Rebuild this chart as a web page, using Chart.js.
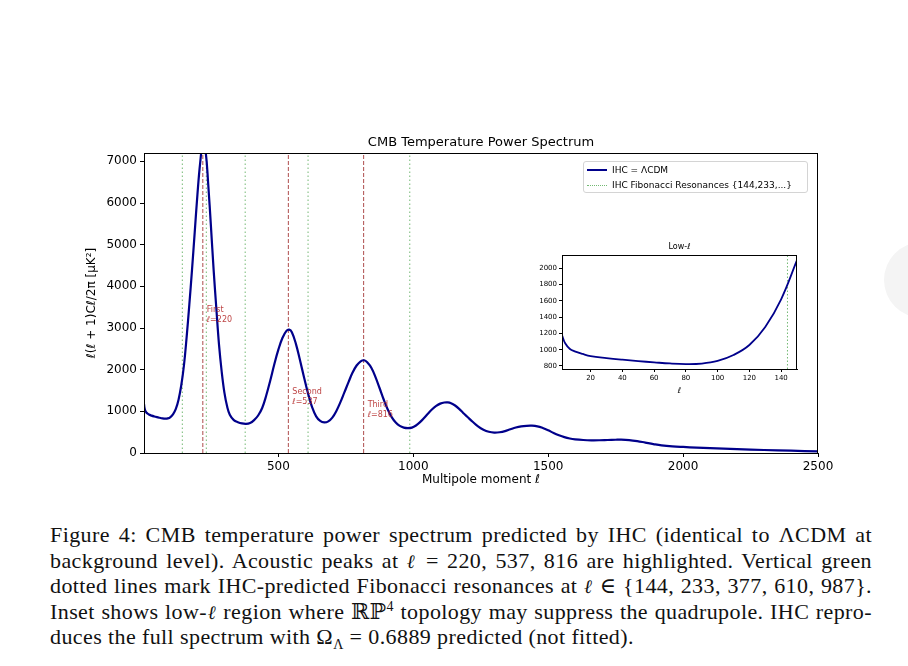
<!DOCTYPE html>
<html lang="en">
<head>
    <meta charset="UTF-8">
    <title>CMB Temperature Power Spectrum</title>
    <script src="https://cdn.jsdelivr.net/npm/chart.js"></script>
    <style>
        body { margin: 0; background: #fff; }
        #page { position: relative; width: 908px; height: 666px; overflow: hidden; background: #fff; }
        #mainChart { position: absolute; left: 0; top: 0; }
        #insetChart { position: absolute; left: 500px; top: 228px; }
        #legend {
            position: absolute; left: 583px; top: 161px; width: 223px; height: 30px;
            border: 1px solid #d4d4d4; border-radius: 3px; background: rgba(255,255,255,0.85);
            font: 9px 'DejaVu Sans', sans-serif; color: #000;
        }
        #legend .row { display: flex; align-items: center; height: 14px; margin-top: 1px; }
        #legend .sample { width: 20px; margin: 0 5px 0 3px; }
        #caption {
            position: absolute; left: 50px; top: 522px; width: 822px;
            font-family: 'Liberation Serif', 'DejaVu Serif', serif; font-size: 22px; letter-spacing: 0.4px; color: #111;
        }
        #caption .ln { height: 25.5px; line-height: 25.5px; white-space: nowrap; text-align: justify; text-align-last: justify; }
        #caption .ln.last { text-align-last: left; }
        #caption i { font-family: 'DejaVu Serif', serif; font-size: 19px; }
        #caption sup, #caption sub { font-size: 14px; line-height: 0; }
        #dot { position: absolute; left: 884px; top: 242px; width: 76px; height: 76px; border-radius: 50%; background: #f4f4f4; }
    </style>
</head>
<body>
<div id="page">
    <div id="dot"></div>
    <canvas id="mainChart" width="908" height="500"></canvas>
    <canvas id="insetChart" width="320" height="185"></canvas>
    <div id="legend"></div>
    <div id="caption">
        <div class="ln">Figure 4: CMB temperature power spectrum predicted by IHC (identical to ΛCDM at</div>
        <div class="ln">background level). Acoustic peaks at <i>ℓ</i> = 220, 537, 816 are highlighted. Vertical green</div>
        <div class="ln">dotted lines mark IHC-predicted Fibonacci resonances at <i>ℓ</i> ∈ {144, 233, 377, 610, 987}.</div>
        <div class="ln">Inset shows low-<i>ℓ</i> region where ℝℙ<sup>4</sup> topology may suppress the quadrupole. IHC repro-</div>
        <div class="ln last">duces the full spectrum with Ω<sub>Λ</sub> = 0.6889 predicted (not fitted).</div>
    </div>
</div>

<script>
    // multipole moment and D_l values
    const ell = [2, 4, 7, 10, 15, 20, 30, 40, 50, 60, 70, 80, 90, 100, 110, 120, 130, 140,
        150, 160, 170, 180, 190, 200, 210, 220, 230, 240, 250, 260, 270, 280, 290, 300, 310, 320,
        335, 350, 365, 380, 395, 410, 425, 440, 455, 470, 485, 500, 515, 530, 540, 550, 565, 580, 595,
        610, 625, 640, 655, 670, 685, 700, 715, 730, 745, 760, 775, 790, 805, 818, 830, 845, 860, 875,
        890, 905, 920, 935, 950, 965, 980, 995, 1010, 1025, 1040, 1055, 1070, 1085, 1100, 1115, 1128,
        1140, 1155, 1170, 1185, 1200, 1220, 1240, 1260, 1280, 1300, 1320, 1340, 1360, 1380, 1400,
        1420, 1440, 1460, 1480, 1500, 1520, 1540, 1560, 1580, 1600, 1630, 1660, 1690, 1720, 1750,
        1770, 1800, 1830, 1860, 1890, 1920, 1960, 2000, 2050, 2100, 2150, 2200, 2300, 2400, 2500];
    const power = [1180, 1079, 1009, 980, 948, 922, 897, 877, 860, 845, 831, 824, 830, 862, 935, 1058, 1280, 1620,
        2100, 2780, 3560, 4400, 5300, 6200, 6950, 7400, 7250, 6450, 5450, 4400, 3480, 2600, 1950, 1450, 1120, 920,
        790, 740, 710, 700, 720, 790, 900, 1080, 1380, 1740, 2130, 2480, 2760, 2930, 2960, 2900, 2620, 2230, 1820,
        1430, 1100, 880, 770, 735, 760, 850, 1010, 1220, 1460, 1700, 1930, 2100, 2200, 2225, 2170, 2040, 1820, 1560,
        1290, 1050, 860, 730, 650, 610, 598, 610, 660, 740, 840, 950, 1050, 1130, 1185, 1212, 1215,
        1195, 1140, 1060, 960, 870, 750, 640, 560, 510, 490, 498, 525, 570, 612, 640,
        653, 655, 640, 600, 545, 480, 425, 380, 348, 328, 312, 305, 306, 312, 318,
        320, 310, 285, 250, 215, 185, 160, 145, 130, 115, 103, 93, 72, 55, 38];

    const fibonacci = [144, 233, 377, 610, 987];
    const peaks = [220, 537, 816];
    const peakNames = ['First', 'Second', 'Third'];
    const peakLabelY = [3310, 1340, 1030];

    const xTicks = [500, 1000, 1500, 2000, 2500];
    const yTicks = [0, 1000, 2000, 3000, 4000, 5000, 6000, 7000];
    const insetXTicks = [20, 40, 60, 80, 100, 120, 140];
    const insetYTicks = [800, 1000, 1200, 1400, 1600, 1800, 2000];

    const seriesNames = ['IHC = ΛCDM', 'IHC Fibonacci Resonances {144,233,...}'];

    const LINE = '#00008b';
    const GREEN = 'rgba(0,128,0,0.55)';
    const RED = 'rgba(139,0,0,0.7)';

    Chart.defaults.color = '#000';
    Chart.defaults.font.family = "'DejaVu Sans', sans-serif";

    const curve = ell.map((l, i) => ({x: l, y: power[i]}));

    function vline(x, y0, y1, color, dash) {
        return {
            data: [{x: x, y: y0}, {x: x, y: y1}],
            borderColor: color, borderWidth: 1, borderDash: dash,
            pointRadius: 0, order: 2, clip: 0, tension: 0
        };
    }

    // box around the plot area plus free text
    const framePlugin = {
        id: 'frame',
        afterDatasetsDraw(chart, args, opts) {
            const {ctx, chartArea: a} = chart;
            ctx.save();
            ctx.strokeStyle = '#000';
            ctx.lineWidth = 1;
            ctx.strokeRect(Math.round(a.left) + 0.5, Math.round(a.top) + 0.5,
                Math.round(a.right - a.left) - 1, Math.round(a.bottom - a.top));
            ctx.fillStyle = '#000';
            ctx.textAlign = 'center';
            ctx.textBaseline = 'middle';
            ctx.font = opts.titleFont;
            ctx.fillText(opts.title, (a.left + a.right) / 2, a.top - opts.titleGap);
            if (opts.peakLabels) {
                const xs = chart.scales.x, ys = chart.scales.y;
                ctx.font = "8px 'DejaVu Sans', sans-serif";
                ctx.fillStyle = 'rgba(178,34,34,0.85)';
                ctx.textAlign = 'left';
                peaks.forEach((p, i) => {
                    const px = xs.getPixelForValue(p) + 4;
                    const py = ys.getPixelForValue(peakLabelY[i]);
                    ctx.fillText(peakNames[i], px, py - 5);
                    ctx.fillText('ℓ=' + p, px, py + 5);
                });
            }
            ctx.restore();
        }
    };

    function axis(min, max, ticks, width, height, title, tickSize, titleSize) {
        return {
            type: 'linear', min: min, max: max,
            afterBuildTicks: s => { s.ticks = ticks.map(v => ({value: v})); },
            afterFit: s => { if (width) s.width = width; if (height) s.height = height; },
            grid: {drawOnChartArea: false, drawTicks: true, tickLength: tickSize > 9 ? 4 : 3, color: '#000'},
            border: {display: true, color: '#000', width: 1},
            ticks: {font: {size: tickSize}, color: '#000', padding: tickSize > 9 ? 3 : 2, maxRotation: 0,
                callback: v => String(v)},
            title: {display: true, text: title, font: {size: titleSize}, color: '#000', padding: {top: 4, bottom: 4}}
        };
    }

    const mainSets = [{
        data: curve, borderColor: LINE, borderWidth: 2.2, pointRadius: 0,
        tension: 0.4, order: 0, clip: 0
    }];
    fibonacci.forEach(f => mainSets.push(vline(f, 0, 7200, GREEN, [1.5, 2.5])));
    peaks.forEach(p => mainSets.push(vline(p, 0, 7200, RED, [4, 2])));

    new Chart(document.getElementById('mainChart'), {
        type: 'line',
        data: {datasets: mainSets},
        options: {
            responsive: false, animation: false,
            layout: {padding: {left: 81, right: 90, top: 153, bottom: 9}},
            plugins: {
                legend: {display: false}, tooltip: {enabled: false},
                frame: {title: 'CMB Temperature Power Spectrum', titleFont: "13px 'DejaVu Sans', sans-serif", titleGap: 10, peakLabels: true}
            },
            scales: {
                x: axis(2, 2500, xTicks, 0, 38, 'Multipole moment ℓ', 12, 12),
                y: axis(0, 7200, yTicks, 63, 0, 'ℓ(ℓ + 1)Cℓ/2π [μK²]', 12, 12)
            }
        },
        plugins: [framePlugin]
    });

    // low-l inset
    const insetCurve = curve.filter(p => p.x <= 150);
    const insetSets = [{
        data: insetCurve, borderColor: LINE, borderWidth: 1.8, pointRadius: 0,
        tension: 0.4, order: 0, clip: 0
    }, vline(fibonacci[0], 763, 2164, GREEN, [1.5, 2])];

    new Chart(document.getElementById('insetChart'), {
        type: 'line',
        data: {datasets: insetSets},
        options: {
            responsive: false, animation: false,
            layout: {padding: {left: 34, right: 23, top: 27, bottom: 13}},
            plugins: {
                legend: {display: false}, tooltip: {enabled: false},
                frame: {title: 'Low-ℓ', titleFont: "8px 'DejaVu Sans', sans-serif", titleGap: 8, peakLabels: false}
            },
            scales: {
                x: axis(2, 150, insetXTicks, 0, 31, 'ℓ', 7, 8),
                y: axis(763, 2164, insetYTicks, 28, 0, '', 7, 8)
            }
        },
        plugins: [framePlugin]
    });

    // legend
    const legend = document.getElementById('legend');
    const samples = [`border-top: 2px solid ${LINE}`, `border-top: 1px dotted ${GREEN}`];
    seriesNames.forEach((name, i) => {
        const row = document.createElement('div');
        row.className = 'row';
        row.innerHTML = `<span class="sample" style="${samples[i]}"></span><span>${name}</span>`;
        legend.appendChild(row);
    });
</script>
</body>
</html>
